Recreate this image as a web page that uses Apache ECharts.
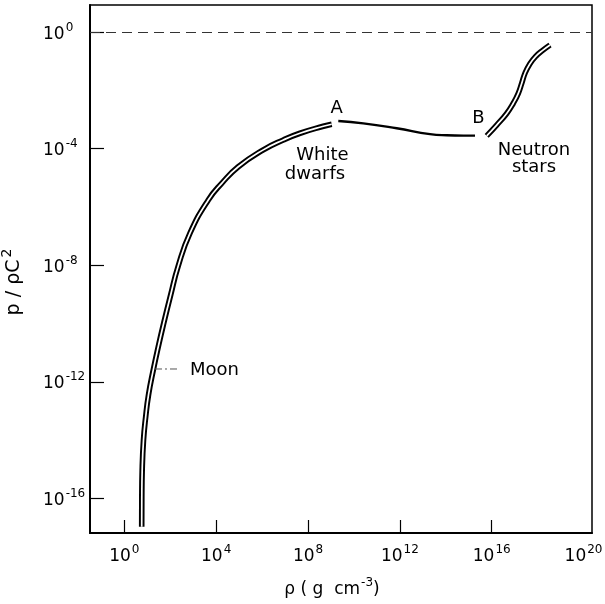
<!DOCTYPE html>
<html><head><meta charset="utf-8">
<script src="https://cdn.jsdelivr.net/npm/echarts@6/dist/echarts.min.js"></script>
<style>html,body{margin:0;padding:0;background:#fff}#c{width:605px;height:604px}</style>
</head><body><div id="c"></div>
<script>
// All values are decimal exponents: log10(rho / g cm^-3) and log10(p / rho c^2)
const wdLogRho = [0.756, 0.760, 0.777, 0.834, 0.930, 1.052, 1.261, 1.479, 1.714, 2.017, 2.337, 2.859, 3.656, 4.240, 4.963, 6.052, 6.923, 7.650, 8.665, 9.031];
const wdLogP   = [-16.97, -16.06, -15.03, -14.00, -13.20, -12.45, -11.59, -10.79, -9.99, -9.02, -8.05, -6.90, -5.76, -5.19, -4.62, -4.04, -3.70, -3.47, -3.23, -3.16];
const abLogRho = [9.318, 10.407, 11.862, 13.312, 14.040, 14.762, 15.272];
const abLogP   = [-3.05, -3.13, -3.30, -3.50, -3.54, -3.55, -3.55];
const nsLogRho = [15.782, 16.217, 16.653, 16.940, 17.158, 17.306, 17.450, 17.646, 17.907, 18.247, 18.539];
const nsLogP   = [-3.56, -3.19, -2.79, -2.44, -2.10, -1.76, -1.41, -1.11, -0.84, -0.61, -0.44];
const moonLogRho = [1.335, 2.337];
const moonLogP   = [-11.56, -11.56];
const unityLogP = 0;
const xTickExps  = [0, 4, 8, 12, 16];
const xLabelExps = [0, 4, 8, 12, 16, 20];
const yTickExps  = [0, -4, -8, -12, -16];
const noteTexts  = ['A', 'B', 'White', 'dwarfs', 'Neutron', 'stars', 'Moon'];
const noteLogRho = [9.249, 15.425, 8.630, 8.304, 17.842, 17.842, 3.926];
const noteLogP   = [-2.61, -2.96, -4.22, -4.87, -4.04, -4.63, -11.59];

const FONT = 'DejaVu Sans';
const rich = {
  b: {fontFamily: FONT, fontSize: 17, color: '#000', verticalAlign: 'bottom'},
  s: {fontFamily: FONT, fontSize: 12, color: '#000', verticalAlign: 'bottom', padding: [0, 0, 9, 1]},
  n: {fontFamily: FONT, fontSize: 17, color: '#000', verticalAlign: 'bottom'}
};
const yNameRich = {
  n: {fontFamily: FONT, fontSize: 19, color: '#000', verticalAlign: 'bottom'},
  s: {fontFamily: FONT, fontSize: 14, color: '#000', verticalAlign: 'bottom', padding: [0, 0, 10, 2]}
};
const pow10 = v => '{b|10}{s|' + v + '}';
const zip = (a, b) => a.map((v, i) => [v, b[i]]);
const curve = (data, color, width, z) => ({
  type: 'line', data: data, smooth: 0.5, symbol: 'none',
  lineStyle: {color: color, width: width}, z: z, silent: true
});

const chart = echarts.init(document.getElementById('c'), null, {renderer: 'canvas'});
chart.setOption({
  animation: false,
  backgroundColor: '#fff',
  grid: {left: 90, right: 13, top: 5, bottom: 71, show: true, borderColor: '#000', borderWidth: 1.5,
    containLabel: false, outerBoundsMode: 'none'},
  xAxis: {
    type: 'value', min: -1.496, max: 20.368,
    splitLine: {show: false},
    axisLine: {show: true, onZero: false, lineStyle: {color: '#000', width: 2}},
    axisTick: {show: true, inside: true, length: 13, customValues: xTickExps, lineStyle: {color: '#000', width: 1.2}},
    axisLabel: {customValues: xLabelExps, margin: 11, formatter: pow10, rich: rich},
    name: '{n|ρ ( g  cm}{s|-3}{n|)}', nameLocation: 'middle', nameGap: 44,
    nameTextStyle: {rich: rich, padding: [0, 18, 0, 0]}
  },
  yAxis: {
    type: 'value', min: -17.188, max: 0.931,
    splitLine: {show: false},
    axisLine: {show: true, onZero: false, lineStyle: {color: '#000', width: 2}},
    axisTick: {show: true, inside: true, length: 14, customValues: yTickExps, lineStyle: {color: '#000', width: 1.2}},
    axisLabel: {customValues: yTickExps, margin: 47, align: 'left', formatter: pow10, rich: rich},
    name: '{n|p / ρC}{s|2}', nameLocation: 'middle', nameGap: 66, nameRotate: 90,
    nameTextStyle: {rich: yNameRich, padding: [0, 26, 0, 0]}
  },
  series: [
    curve(zip(wdLogRho, wdLogP), '#000', 5.6, 2),
    curve(zip(wdLogRho, wdLogP), '#fff', 1.7, 3),
    curve(zip(abLogRho, abLogP), '#000', 2.4, 2),
    curve(zip(nsLogRho, nsLogP), '#000', 5.6, 2),
    curve(zip(nsLogRho, nsLogP), '#fff', 1.7, 3),
    {type: 'line', data: zip(moonLogRho, moonLogP), symbol: 'none', silent: true,
      lineStyle: {color: '#555', width: 1, type: [7, 3, 2, 3]}, z: 2},
    {type: 'line', data: [], symbol: 'none',
      markLine: {silent: true, symbol: 'none', label: {show: false},
        lineStyle: {color: '#333', width: 1.2, type: [10, 6]}, data: [{yAxis: unityLogP}]}},
    {type: 'scatter', symbolSize: 0, itemStyle: {color: '#000', opacity: 1}, z: 4, silent: true,
      data: noteTexts.map((t, i) => ({name: t, value: [noteLogRho[i], noteLogP[i]]})),
      label: {show: true, position: 'inside', formatter: '{b}', fontFamily: FONT, fontSize: 18, color: '#000'}}
  ]
});
</script></body></html>
